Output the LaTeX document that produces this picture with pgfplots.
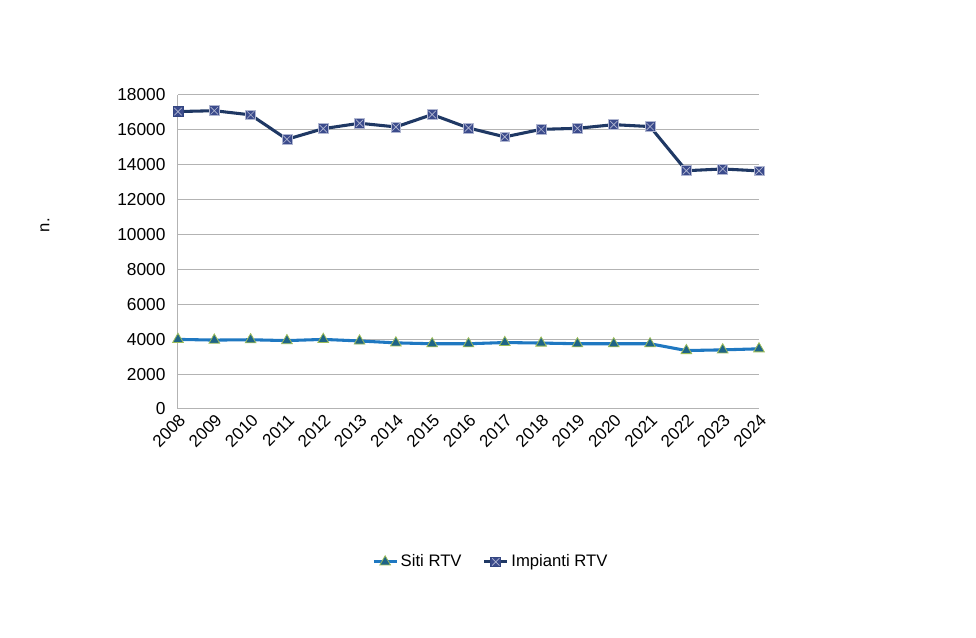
\documentclass[border=0pt]{standalone}
\usepackage{fontspec}
\setmainfont{Liberation Sans}
\usepackage{pgfplots}
\pgfplotsset{compat=1.18}
\definecolor{navy}{HTML}{1F3864}
\definecolor{navyfill}{HTML}{3B4B8C}
\definecolor{sitiline}{HTML}{1F78C1}
\definecolor{sitifill}{HTML}{1E6487}
\definecolor{sitiedge}{HTML}{9BBB59}
\definecolor{gridgray}{HTML}{B3B3B3}
\pgfdeclareplotmark{sqx}{%
  \pgfpathrectangle{\pgfpoint{-\pgfplotmarksize}{-\pgfplotmarksize}}{\pgfpoint{2\pgfplotmarksize}{2\pgfplotmarksize}}%
  \pgfusepathqfillstroke
  \pgfpathmoveto{\pgfpoint{-0.75\pgfplotmarksize}{-0.75\pgfplotmarksize}}%
  \pgfpathlineto{\pgfpoint{0.75\pgfplotmarksize}{0.75\pgfplotmarksize}}%
  \pgfpathmoveto{\pgfpoint{-0.75\pgfplotmarksize}{0.75\pgfplotmarksize}}%
  \pgfpathlineto{\pgfpoint{0.75\pgfplotmarksize}{-0.75\pgfplotmarksize}}%
  \pgfsetlinewidth{0.5pt}\pgfsetstrokecolor{navyfill!40!white}%
  \pgfusepathqstroke
}
\begin{document}
\fontsize{12.5}{15}\selectfont
\begin{tikzpicture}
\path[use as bounding box] (0,0) rectangle (732pt,478.5pt);
\begin{axis}[
  at={(133.5pt,171.75pt)}, anchor=south west,
  scale only axis, width=435.75pt, height=235.5pt,
  xmin=2008, xmax=2024, ymin=0, ymax=18000,
  xtick={2008,...,2024},
  ytick={0,2000,...,18000},
  scaled y ticks=false,
  /pgf/number format/assume math mode=true,
  /pgf/number format/1000 sep={},
  yticklabel={\pgfmathprintnumber[fixed,precision=0,1000 sep={}]{\tick}},
  xticklabel style={rotate=45, anchor=north east, font=\fontsize{12.8}{15}\selectfont, inner sep=2pt},
  yticklabel style={font=\fontsize{13}{15}\selectfont, xshift=-5pt},
  ymajorgrids, grid style={gridgray, line width=0.75pt},
  axis x line*=bottom, axis y line*=left,
  axis line style={gridgray, line width=0.75pt},
  x axis line style={-}, y axis line style={-},
  major tick length=0pt,
  ylabel={n.},
  ylabel style={font=\fontsize{12.5}{15}\selectfont, at={(rel axis cs:-0.229,0.585)}, anchor=center},
  legend style={draw=none, at={(0.539,-0.487)}, anchor=center, legend columns=2,
    font=\fontsize{12.5}{15}\selectfont, /tikz/every even column/.append style={column sep=14pt}},
  legend cell align=left,
]
\addplot[sitiline, line width=2.3pt, mark=triangle*, mark size=4.6pt,
  mark options={fill=sitifill, draw=sitiedge, line width=0.6pt}] coordinates {
(2008,3990) (2009,3950) (2010,3970) (2011,3920) (2012,3990) (2013,3900) (2014,3790)
(2015,3740) (2016,3740) (2017,3810) (2018,3780) (2019,3740) (2020,3740) (2021,3740)
(2022,3350) (2023,3390) (2024,3450)};
\addlegendentry{Siti RTV}
\addplot[navy, line width=2.3pt, mark=sqx, mark size=3.7pt,
  mark options={fill=navyfill, draw=navyfill!70!navy, line width=0.6pt}] coordinates {
(2008,17050) (2009,17100) (2010,16860) (2011,15460) (2012,16070) (2013,16380) (2014,16170)
(2015,16880) (2016,16110) (2017,15600) (2018,16030) (2019,16090) (2020,16300) (2021,16190)
(2022,13660) (2023,13760) (2024,13650)};
\addlegendentry{Impianti RTV}
\end{axis}
\end{tikzpicture}
\end{document}
